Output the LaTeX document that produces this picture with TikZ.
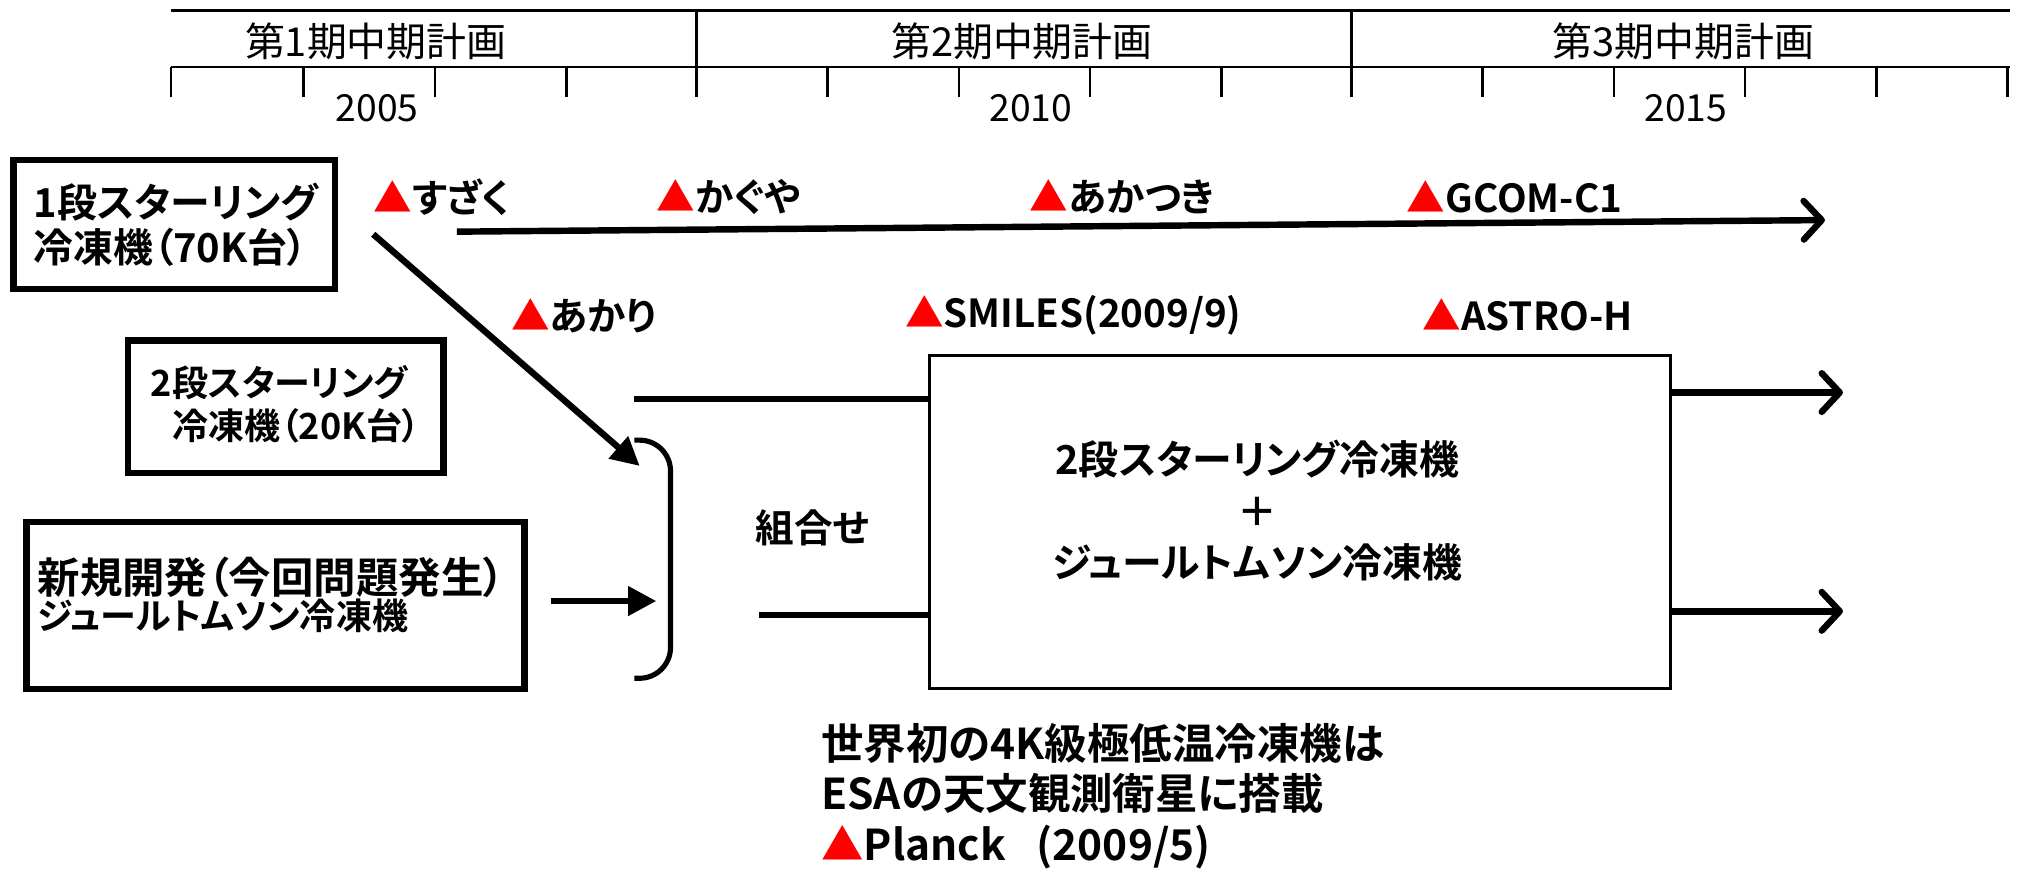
\documentclass[tikz,border=0pt]{standalone}
\usepackage{fontspec}
\setmainfont[RawFeature=+palt, BoldFont={Noto Sans CJK JP Bold}]{Noto Sans CJK JP}
\usetikzlibrary{arrows.meta}
\newcommand{\rtri}{\textcolor{red}{▲}}
\tikzset{
  tl/.style={line width=2pt},
  thick line/.style={line width=5pt},
  boxn/.style={draw, line width=5pt, inner sep=0pt},
  lab/.style={font=\bfseries\fontsize{30}{34}\selectfont, inner sep=0pt, anchor=west},
  ttl/.style={font=\fontsize{31}{36}\selectfont, inner sep=0pt},
  yr/.style={font=\fontsize{29}{34}\selectfont, inner sep=0pt},
  chev/.style={-{Straight Barb[length=14pt,width=30pt,round]}},
  fill arrow/.style={-{Triangle[length=22pt,width=22pt]}},
}
\begin{document}
\begin{tikzpicture}[x=1pt,y=-1pt]
\useasboundingbox (0,0) rectangle (1568,675);
% timeline
\draw[tl] (133,8) -- (1562,8);
\draw[tl] (133,52) -- (1562,52);
\foreach \t in {133,236,338,440,643,745,847,949,1152,1254,1356,1458,1560}
  \draw[tl] (\t,52) -- (\t,75);
\draw[tl] (541,8) -- (541,75);
\draw[tl] (1050,8) -- (1050,75);
\node[ttl] (p1) at (292,32) {第1期中期計画};
\node[ttl] (p2) at (794,32) {第2期中期計画};
\node[ttl] (p3) at (1308,32) {第3期中期計画};
\node[yr] (y1) at (293,84) {2005};
\node[yr] (y2) at (801,84) {2010};
\node[yr] (y3) at (1310,84) {2015};
% boxes
\node[boxn, minimum width=250pt, minimum height=100pt] (b1) at (135.5,174.5) {};
\node[inner sep=0pt, anchor=west, align=left, font=\bfseries\fontsize{31}{35}\selectfont] (b1t) at (26,175) {1段スターリング\\冷凍機（70K台）};
\node[boxn, minimum width=245pt, minimum height=103pt] (b2) at (222,316) {};
\node[inner sep=0pt, anchor=west, align=left, font=\bfseries\fontsize{28}{34}\selectfont] (b2t) at (117,314) {2段スターリング\\\hspace*{17pt}冷凍機（20K台）};
\node[boxn, minimum width=387pt, minimum height=130pt] (b3) at (214,470.5) {};
\node[inner sep=0pt, anchor=west, align=left] (b3t) at (29,462) {{\bfseries\fontsize{33}{38}\selectfont 新規開発（今回問題発生）}\\{\bfseries\fontsize{28}{34}\selectfont ジュールトムソン冷凍機}};
% satellites
\node[lab] (suzaku) at (290,153) {\rtri すざく};
\node[lab] (kaguya) at (510,153) {\rtri かぐや};
\node[lab] (akatsuki) at (800,153) {\rtri あかつき};
\node[lab] (gcom) at (1093,153) {\rtri GCOM-C1};
\node[lab] (akari) at (397,245) {\rtri あかり};
\node[lab] (smiles) at (703,245) {\rtri SMILES(2009/9)};
\node[lab] (astro) at (1105,245) {\rtri ASTRO-H};
% big box
\node[draw, line width=2.5pt, minimum width=576pt, minimum height=259pt, inner sep=0pt] (big) at (1010,405.5) {};
\node[font=\bfseries\fontsize{31}{40}\selectfont, align=center, inner sep=0pt] (bigtxt) at (977,397) {2段スターリング冷凍機\\＋\\ジュールトムソン冷凍機};
\node[font=\bfseries\fontsize{30}{34}\selectfont, inner sep=0pt] (kumi) at (631,410) {組合せ};
% coordinates
\coordinate (s1) at (355,180);
\coordinate (e1) at (1418,171);
\coordinate (d0) at (290,182);
\coordinate (d1) at (497,362);
\coordinate (h0) at (428,467);
\coordinate (h1) at (510,467);
\coordinate (l1) at (493,310);
\coordinate (l2) at (590,478);
\coordinate (r1) at (1432,305);
\coordinate (r2) at (1432,475);
\draw[thick line, chev] (s1) -- (e1);
\draw[thick line, fill arrow] (d0) -- (d1);
\draw[thick line, fill arrow] (h0) -- (h1);
\draw[thick line] (l1) -- (l1 -| big.west);
\draw[thick line] (l2) -- (l2 -| big.west);
\draw[thick line, chev] (big.east |- r1) -- (r1);
\draw[thick line, chev] (big.east |- r2) -- (r2);
% bracket
\coordinate (bk0) at (493,342);
\coordinate (bk1) at (493,527);
\draw[line width=4pt, rounded corners=24pt] (bk0) -- ++(28,0) |- (bk1);
% bottom text
\node[font=\bfseries\fontsize{33}{39}\selectfont, align=left, inner sep=0pt, anchor=north west] (note) at (638,562) {世界初の4K級極低温冷凍機は\\ESAの天文観測衛星に搭載\\\rtri Planck\hspace*{24pt}(2009/5)};
\end{tikzpicture}
\end{document}
